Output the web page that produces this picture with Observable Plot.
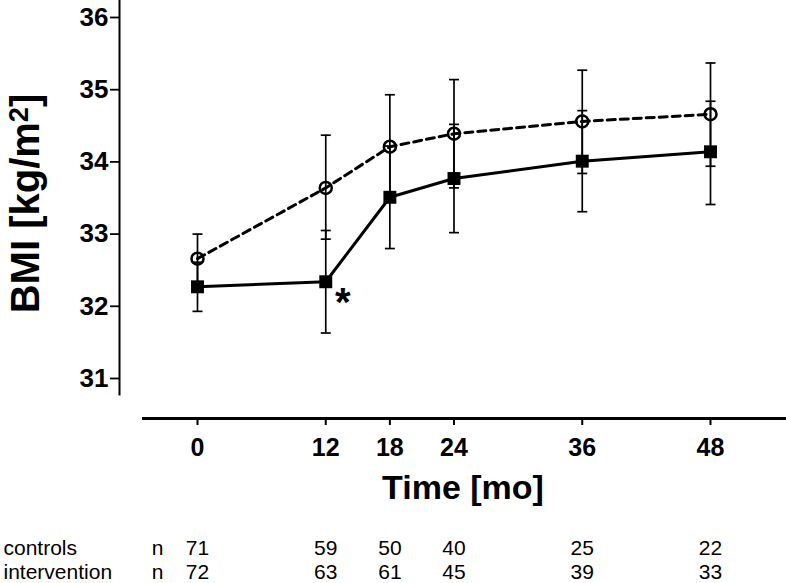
<!DOCTYPE html>
<html>
<head>
<meta charset="utf-8">
<script src="https://cdn.jsdelivr.net/npm/d3@7"></script>
<script src="https://cdn.jsdelivr.net/npm/@observablehq/plot@0.6"></script>
<style>
  html, body { margin: 0; padding: 0; background: #fff; }
  #chart svg { display: block; }
</style>
</head>
<body>
<div id="chart"></div>
<script>
// ---- data ----
const months = [0, 12, 18, 24, 36, 48];
const yTicks = [31, 32, 33, 34, 35, 36];

const controlsMean = [32.66, 33.64, 34.21, 34.39, 34.56, 34.66];
const controlsLo   = [32.32, 32.93, 33.49, 33.64, 33.84, 33.94];
const controlsHi   = [33.00, 34.37, 34.93, 35.14, 35.27, 35.37];

const interventionMean = [32.27, 32.34, 33.51, 33.77, 34.01, 34.14];
const interventionLo   = [31.93, 31.63, 32.80, 33.02, 33.31, 33.41];
const interventionHi   = [32.61, 33.05, 34.22, 34.52, 34.71, 34.84];

const controlsN     = [71, 59, 50, 40, 25, 22];
const interventionN = [72, 63, 61, 45, 39, 33];

const significantMonths = [12]; // asterisk on intervention

// ---- tables built from the arrays ----
const controls = months.map((m, i) => ({month: m, mean: controlsMean[i], lo: controlsLo[i], hi: controlsHi[i]}));
const intervention = months.map((m, i) => ({month: m, mean: interventionMean[i], lo: interventionLo[i], hi: interventionHi[i]}));
const allRows = controls.concat(intervention);
const starRows = intervention.filter(d => significantMonths.includes(d.month));
const nControls = months.map((m, i) => ({month: m, n: controlsN[i]}));
const nIntervention = months.map((m, i) => ({month: m, n: interventionN[i]}));

const FONT = "Liberation Sans, Arial, Helvetica, sans-serif";
const Y_TITLE = "BMI [kg/m²]";

// horizontal cap symbol for error bars
const capSymbol = {draw(ctx, size) { const w = 5; ctx.moveTo(-w, 0); ctx.lineTo(w, 0); }};

const rowDyC = 154, rowDyI = 178;
const rowFont = 21;

const chart = Plot.plot({
  width: 786,
  height: 583,
  marginLeft: 119,
  marginRight: 0,
  marginTop: 0,
  marginBottom: 189,
  style: {fontFamily: FONT, color: "black", background: "white"},
  x: {domain: [0, 48], range: [197, 710]},
  y: {domain: [31, 36], range: [378, 17]},
  marks: [
    // y axis line
    Plot.frame({anchor: "left", stroke: "black", strokeWidth: 2}),
    Plot.axisY(yTicks, {anchor: "left", tickSize: 9, tickPadding: 2, strokeWidth: 1.8,
      tickFormat: d => String(d), fontSize: 26, fontWeight: "bold", label: null}),
    // x axis line (below plot area)
    Plot.frame({anchor: "bottom", insetLeft: 24, dy: 24, stroke: "black", strokeWidth: 3}),
    Plot.axisX(months, {anchor: "bottom", dy: 24, tickSize: 7, tickPadding: 13, strokeWidth: 2,
      tickFormat: d => String(d), fontSize: 25, fontWeight: "bold", label: null}),
    // x axis title
    Plot.text(["Time [mo]"], {frameAnchor: "bottom", textAnchor: "middle", dx: 10, dy: 94, fontSize: 34, fontWeight: "bold", lineAnchor: "middle"}),
    // y axis title
    Plot.text([Y_TITLE], {frameAnchor: "left", textAnchor: "middle", rotate: -90, dx: -93, dy: 6, fontSize: 40, fontWeight: "bold", lineAnchor: "middle"}),
    // error bars
    Plot.ruleX(allRows, {x: "month", y1: "lo", y2: "hi", stroke: "black", strokeWidth: 1.7}),
    Plot.dot(allRows, {x: "month", y: "lo", symbol: capSymbol, fill: "none", stroke: "black", strokeWidth: 1.7, r: 5}),
    Plot.dot(allRows, {x: "month", y: "hi", symbol: capSymbol, fill: "none", stroke: "black", strokeWidth: 1.7, r: 5}),
    // lines
    Plot.line(controls, {x: "month", y: "mean", stroke: "black", strokeWidth: 3, strokeDasharray: "8,5"}),
    Plot.line(intervention, {x: "month", y: "mean", stroke: "black", strokeWidth: 3}),
    // markers
    Plot.dot(controls, {x: "month", y: "mean", symbol: "circle", r: 6, fill: "none", stroke: "black", strokeWidth: 2.5}),
    Plot.dot(intervention, {x: "month", y: "mean", symbol: "square", r: 7.3, fill: "black", stroke: "none"}),
    // significance asterisk
    Plot.text(starRows, {x: "month", y: "mean", text: () => "*", textAnchor: "middle", dx: 17, dy: 21, fontSize: 40, fontWeight: "bold", lineAnchor: "middle"}),
    // n rows
    Plot.text(["controls"], {frameAnchor: "bottom-left", textAnchor: "start", dx: -116, dy: rowDyC, fontSize: rowFont, lineAnchor: "middle"}),
    Plot.text(["intervention"], {frameAnchor: "bottom-left", textAnchor: "start", dx: -116, dy: rowDyI, fontSize: rowFont, lineAnchor: "middle"}),
    Plot.text(["n"], {frameAnchor: "bottom-left", textAnchor: "middle", dx: 38, dy: rowDyC, fontSize: rowFont, lineAnchor: "middle"}),
    Plot.text(["n"], {frameAnchor: "bottom-left", textAnchor: "middle", dx: 38, dy: rowDyI, fontSize: rowFont, lineAnchor: "middle"}),
    Plot.text(nControls, {x: "month", text: "n", textAnchor: "middle", frameAnchor: "bottom", dy: rowDyC, fontSize: rowFont, lineAnchor: "middle"}),
    Plot.text(nIntervention, {x: "month", text: "n", textAnchor: "middle", frameAnchor: "bottom", dy: rowDyI, fontSize: rowFont, lineAnchor: "middle"})
  ]
});

// render the "²" of the y title as a real superscript 2
d3.select(chart).selectAll("text").filter(function () { return this.textContent === Y_TITLE; })
  .each(function () {
    const t = d3.select(this);
    const baseDy = t.attr("dy");
    t.text(null);
    t.append("tspan").text("BMI [kg/m");
    t.append("tspan").attr("dy", "-0.42em").attr("font-size", "0.68em").text("2");
    t.append("tspan").attr("dy", "0.29em").text("]");
    if (baseDy != null) t.attr("dy", baseDy);
  });

document.getElementById("chart").appendChild(chart);
</script>
</body>
</html>
